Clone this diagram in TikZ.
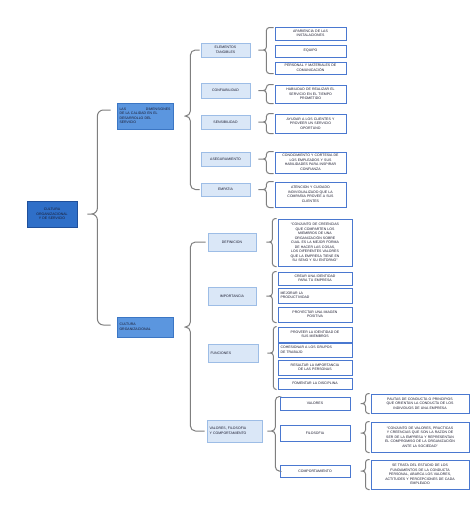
\documentclass[tikz,border=0pt]{standalone}
\usepackage{fontspec}
\setmainfont{Liberation Sans}
\usetikzlibrary{calc}
\definecolor{rootfill}{HTML}{2F6FC8}
\definecolor{rootdraw}{HTML}{1F4F9A}
\definecolor{lonefill}{HTML}{5B96DF}
\definecolor{lonedraw}{HTML}{3B76C4}
\definecolor{ltwofill}{HTML}{DAE7F7}
\definecolor{ltwodraw}{HTML}{9DBDE6}
\definecolor{leafdraw}{HTML}{4A78D0}
\definecolor{bracegray}{HTML}{7F7F7F}
\definecolor{txt}{HTML}{1A1A2E}
\newcommand\brc[5][3pt]{\draw[br, rounded corners=#1] let \p1=(#2), \p2=(#3), \p3=(#4) in (\p2) -- (\x1+#5,\y2) -- (\x1+#5,\y1) -- (\p1) (\p3) -- (\x1+#5,\y3) -- (\x1+#5,\y1) -- (\p1);}
\begin{document}
\begin{tikzpicture}[x=1pt,y=-1pt,
  font=\fontsize{3.5}{4.5}\selectfont,
  box/.style={rectangle, inner xsep=2pt, inner ysep=0.5pt, align=center, text=txt},
  rootbox/.style={box, fill=rootfill, draw=rootdraw, line width=0.8pt},
  lone/.style={box, fill=lonefill, draw=lonedraw, line width=0.8pt},
  ltwo/.style={box, fill=ltwofill, draw=ltwodraw, line width=0.8pt},
  leaf/.style={box, fill=white, draw=leafdraw, line width=1pt},
  br/.style={draw=bracegray, line width=1pt}]
\useasboundingbox[fill=white] (0,0) rectangle (474,507);

% root and level 1
\node[rootbox, minimum width=50pt, minimum height=26pt, text width=45pt] (root) at (52,214) {CULTURA\\ORGANIZACIONAL\\Y DE SERVICIO};
\node[lone, minimum width=56pt, minimum height=26pt, text width=51pt, align=left] (l1a) at (145,116) {LAS \hfill DIMENSIONES\\DE LA CALIDAD EN EL\\DESARROLLO DEL\\SERVICIO};
\node[lone, minimum width=56pt, minimum height=20pt, text width=51pt, align=left] (l1b) at (145,327) {CULTURA\\ORGANIZACIONAL};

% level 2 top
\node[ltwo, minimum width=49pt, minimum height=14pt, text width=44pt] (et) at (225.5,50) {ELEMENTOS\\TANGIBLES};
\node[ltwo, minimum width=49pt, minimum height=15pt, text width=44pt] (conf) at (225.5,90.5) {CONFIABILIDAD};
\node[ltwo, minimum width=49pt, minimum height=14pt, text width=44pt] (sens) at (225.5,122) {SENSIBILIDAD};
\node[ltwo, minimum width=49pt, minimum height=14pt, text width=44pt] (aseg) at (225.5,159) {ASEGURAMIENTO};
\node[ltwo, minimum width=49pt, minimum height=13pt, text width=44pt] (emp) at (225.5,189.5) {EMPATIA};

% leaves top
\node[leaf, minimum width=71pt, minimum height=13pt, text width=66pt] (ap) at (310.5,33.5) {APARIENCIA DE LAS\\INSTALACIONES};
\node[leaf, minimum width=71pt, minimum height=12pt, text width=66pt] (eq) at (310.5,51) {EQUIPO};
\node[leaf, minimum width=71pt, minimum height=12pt, text width=66pt] (pm) at (310.5,68) {PERSONAL Y MATERIALES DE\\COMUNICACIÓN};
\node[leaf, minimum width=71pt, minimum height=18pt, text width=66pt] (hab) at (310.5,94) {HABILIDAD DE REALIZAR EL\\SERVICIO EN EL TIEMPO\\PROMETIDO};
\node[leaf, minimum width=71pt, minimum height=19pt, text width=66pt] (ayu) at (310.5,123.5) {AYUDAR A LOS CLIENTES Y\\PROVEER UN SERVICIO\\OPORTUNO};
\node[leaf, minimum width=71pt, minimum height=21pt, text width=66pt] (con) at (310.5,162.5) {CONOCIMIENTO Y CORTESIA DE\\LOS EMPLEADOS Y SUS\\HABILIDADES PARA INSPIRAR\\CONFIANZA};
\node[leaf, minimum width=71pt, minimum height=25pt, text width=66pt] (ate) at (310.5,194.5) {ATENCION Y CUIDADO\\INDIVIDUALIZADO QUE LA\\COMPAÑIA PROVEE A SUS\\CLIENTES};

% level 2 bottom
\node[ltwo, minimum width=48pt, minimum height=18pt, text width=43pt] (def) at (232,242) {DEFINICION};
\node[ltwo, minimum width=48pt, minimum height=18pt, text width=43pt] (imp) at (232,296) {IMPORTANCIA};
\node[ltwo, minimum width=50pt, minimum height=18pt, text width=45pt, align=left] (fun) at (233,353) {FUNCIONES};
\node[ltwo, minimum width=55pt, minimum height=22pt, text width=50pt, align=left] (val) at (234.5,431) {VALORES, FILOSOFIA\\Y COMPORTAMIENTO};

% leaves bottom
\node[leaf, minimum width=74pt, minimum height=47pt, text width=69pt] (deft) at (315,242.5) {“CONJUNTO DE CREENCIAS\\QUE COMPARTEN LOS\\MIEMBROS DE UNA\\ORGANIZACIÓN SOBRE\\CUAL ES LA MEJOR FORMA\\DE HACER LAS COSAS,\\LOS DIFERENTES VALORES\\QUE LA EMPRESA TIENE EN\\SU SENO Y SU ENTORNO”};
\node[leaf, minimum width=74pt, minimum height=13pt, text width=69pt] (crear) at (315,278.5) {CREAR UNA IDENTIDAD\\PARA TU EMPRESA};
\node[leaf, minimum width=74pt, minimum height=15pt, text width=69pt, align=left] (mej) at (315,295.5) {MEJORAR LA\\PRODUCTIVIDAD};
\node[leaf, minimum width=74pt, minimum height=15pt, text width=69pt] (proy) at (315,314.5) {PROYECTAR UNA IMAGEN\\POSITIVA};
\node[leaf, minimum width=74pt, minimum height=15pt, text width=69pt] (prov) at (315,334.5) {PROVEER LA IDENTIDAD DE\\SUS MIEMBROS};
\node[leaf, minimum width=74pt, minimum height=14pt, text width=69pt, align=left] (coh) at (315,350) {COHESIONAR A LOS GRUPOS\\DE TRABAJO};
\node[leaf, minimum width=74pt, minimum height=15pt, text width=69pt] (res) at (315,367.5) {RESALTAR LA IMPORTANCIA\\DE LAS PERSONAS};
\node[leaf, minimum width=74pt, minimum height=11pt, text width=69pt] (fom) at (315,383.5) {FOMENTAR LA DISCIPLINA};
\node[leaf, minimum width=70pt, minimum height=13pt, text width=65pt] (valores) at (315,403.5) {VALORES};
\node[leaf, minimum width=70pt, minimum height=16pt, text width=65pt] (filo) at (315,433) {FILOSOFIA};
\node[leaf, minimum width=70pt, minimum height=12pt, text width=65pt] (comp) at (315,471) {COMPORTAMIENTO};

% right leaves
\node[leaf, minimum width=98pt, minimum height=19pt, text width=93pt] (pautas) at (420,403.5) {PAUTAS DE CONDUCTA O PRINCIPIOS\\QUE ORIENTAN LA CONDUCTA DE LOS\\INDIVIDUOS DE UNA EMPRESA};
\node[leaf, minimum width=98pt, minimum height=30pt, text width=93pt] (conj) at (420,437) {“CONJUNTO DE VALORES, PRACTICAS\\Y CREENCIAS QUE SON LA RAZON DE\\SER DE LA EMPRESA Y REPRESENTAN\\EL COMPROMISO DE LA ORGANIZACIÓN\\ANTE LA SOCIEDAD”};
\node[leaf, minimum width=98pt, minimum height=29pt, text width=93pt] (setrata) at (420,474.5) {SE TRATA DEL ESTUDIO DE LOS\\FUNDAMENTOS DE LA CONDUCTA\\PERSONAL, ABARCA LOS VALORES,\\ACTITUDES Y PERCEPCIONES DE CADA\\EMPLEADO};

% braces
\brc[6pt]{[xshift=10pt]root.east}{[xshift=-6pt,yshift=6pt]l1a.west}{[xshift=-6pt,yshift=2pt]l1b.west}{10pt}
\brc[5pt]{[xshift=11pt]l1a.east}{[xshift=-1pt]et.west}{[xshift=-1pt]emp.west}{6pt}
\brc[5pt]{[xshift=11pt]l1b.east}{[xshift=-2pt]def.west}{[xshift=-2pt]val.west}{6pt}

\brc{[xshift=8pt]et.east}{[xshift=-1pt,yshift=-1pt]ap.north west}{[xshift=-1pt,yshift=1pt]pm.south west}{8pt}
\brc{[xshift=8pt]conf.east}{[xshift=-1pt]hab.north west}{[xshift=-1pt]hab.south west}{8pt}
\brc{[xshift=8pt]sens.east}{[xshift=-1pt]ayu.north west}{[xshift=-1pt]ayu.south west}{8pt}
\brc{[xshift=8pt]aseg.east}{[xshift=-1pt]con.north west}{[xshift=-1pt]con.south west}{8pt}
\brc{[xshift=8pt]emp.east}{[xshift=-1pt]ate.north west}{[xshift=-1pt]ate.south west}{8pt}

\brc{[xshift=10pt]def.east}{[xshift=-1pt]deft.north west}{[xshift=-1pt]deft.south west}{6pt}
\brc{[xshift=10pt]imp.east}{[xshift=-1pt]crear.north west}{[xshift=-1pt]proy.south west}{6pt}
\brc{[xshift=9pt]fun.east}{[xshift=-1pt]prov.north west}{[xshift=-1pt]fom.south west}{6pt}
\brc[4pt]{[xshift=5pt]val.east}{[xshift=-1pt]valores.north west}{[xshift=-1pt]comp.west}{8pt}

\brc{[xshift=10pt]valores.east}{[xshift=-1pt]pautas.north west}{[xshift=-1pt]pautas.south west}{5pt}
\brc{[xshift=10pt]filo.east}{[xshift=-1pt]conj.north west}{[xshift=-1pt]conj.south west}{5pt}
\brc{[xshift=10pt]comp.east}{[xshift=-1pt]setrata.north west}{[xshift=-1pt]setrata.south west}{5pt}
\end{tikzpicture}
\end{document}
